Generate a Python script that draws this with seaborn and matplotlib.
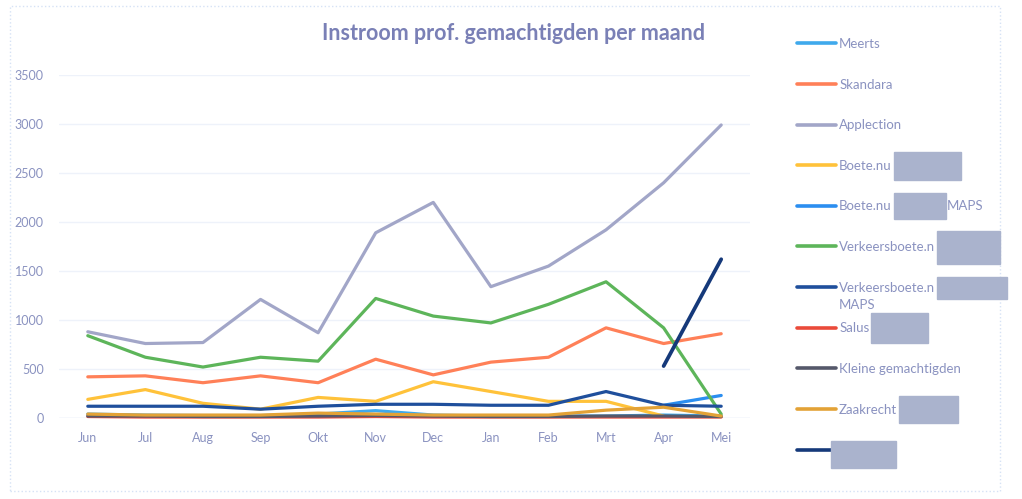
import matplotlib.pyplot as plt
import matplotlib.patches as mpatches
import seaborn as sns
import pandas as pd
import numpy as np

nan = np.nan
months = ['Jun', 'Jul', 'Aug', 'Sep', 'Okt', 'Nov', 'Dec', 'Jan', 'Feb', 'Mrt', 'Apr', 'Mei']

meerts = [40, 30, 25, 25, 40, 75, 30, 20, 20, 20, 30, 20]
skandara = [420, 430, 360, 430, 360, 600, 440, 570, 620, 920, 760, 860]
applection = [880, 760, 770, 1210, 870, 1890, 2200, 1340, 1550, 1920, 2400, 2990]
boete_nu = [190, 290, 150, 90, 210, 170, 370, 270, 170, 170, 20, nan]
boete_nu_maps = [nan, nan, nan, nan, nan, nan, nan, nan, nan, nan, 130, 230]
verkeersboete = [840, 620, 520, 620, 580, 1220, 1040, 970, 1160, 1390, 920, 40]
verkeersboete_maps = [120, 120, 120, 90, 120, 140, 140, 130, 130, 270, 130, 120]
salus = [15, 10, 10, 10, 10, 15, 10, 10, 10, 10, 10, 10]
kleine = [20, 20, 15, 15, 20, 25, 20, 15, 15, 20, 20, 15]
zaakrecht = [40, 30, 30, 30, 50, 40, 30, 30, 30, 80, 110, 20]
overig = [nan, nan, nan, nan, nan, nan, nan, nan, nan, nan, 530, 1620]

series = ['Meerts', 'Skandara', 'Applection', 'Boete.nu', 'Boete.nu MAPS',
          'Verkeersboete.nu', 'Verkeersboete.nu MAPS', 'Salus',
          'Kleine gemachtigden', 'Zaakrecht', 'Overig']
values = [meerts, skandara, applection, boete_nu, boete_nu_maps, verkeersboete,
          verkeersboete_maps, salus, kleine, zaakrecht, overig]
colors = ['#3fa9ec', '#ff8058', '#a2a6c8', '#ffc23a', '#2b8ef0', '#5db55a',
          '#1f4f9c', '#ea4a3a', '#55586a', '#e3a236', '#15397a']
# visible part of each legend label (rest is redacted in the source)
legend_labels = ['Meerts', 'Skandara', 'Applection', 'Boete.nu', 'Boete.nu',
                 'Verkeersboete.n', 'Verkeersboete.n', 'Salus',
                 'Kleine gemachtigden', 'Zaakrecht', '']
# (entry index, box width px, box height px)
redacted = [(3, 67, 28), (4, 52, 26), (5, 63, 33), (6, 70, 22),
            (7, 57, 30), (9, 59, 27), (10, 65, 27)]

rows = []
for name, vals in zip(series, values):
    for i, v in enumerate(vals):
        rows.append({'serie': name, 'maand': i, 'aantal': v})
df = pd.DataFrame(rows).dropna()

sns.set_style('white')
plt.rcParams['font.family'] = ['Lato', 'DejaVu Sans']
txt = '#8a92c0'

fig = plt.figure(figsize=(10.22, 4.99), dpi=100)
ax = fig.add_axes([59 / 1022, 1 - 418 / 499, 691 / 1022, 343 / 499])

sns.lineplot(data=df, x='maand', y='aantal', hue='serie', hue_order=series,
             palette=dict(zip(series, colors)), linewidth=2.3, ax=ax,
             legend=False, sort=False)
for line in ax.lines:
    line.set_solid_capstyle('round')
    line.set_clip_on(False)
ax.lines[-1].set_linewidth(2.7)

ax.set_xlim(-0.5, 11.5)
ax.set_ylim(0, 3500)
ax.set_yticks(range(0, 3501, 500))
ax.set_xticks(range(len(months)))
ax.set_xticklabels(months)
ax.tick_params(axis='both', colors=txt, labelsize=9, length=0)
ax.tick_params(axis='y', pad=11)
ax.tick_params(axis='x', pad=10)
ax.grid(axis='y', color='#eef2fa', linewidth=1)
for s in ax.spines.values():
    s.set_visible(False)
ax.axhline(0, color='#dde6f5', linewidth=1, zorder=0)
ax.set_xlabel('')
ax.set_ylabel('')

fig.text(513 / 1022, 1 - 33 / 499, 'Instroom prof. gemachtigden per maand',
         ha='center', va='center', fontsize=15.5, fontweight='bold', color='#7a80b6')

handles = [plt.Line2D([], [], color=c, linewidth=2.6) for c in colors]
leg = fig.legend(handles, legend_labels, loc='upper left',
                 bbox_to_anchor=(785 / 1022, 1 - 26 / 499), frameon=False,
                 fontsize=9.5, labelspacing=2.17, handlelength=3.0,
                 handletextpad=0.2, labelcolor=txt)

fig.canvas.draw()
renderer = fig.canvas.get_renderer()
texts = leg.get_texts()
inv = fig.transFigure.inverted()
for idx, w, h in redacted:
    bb = texts[idx].get_window_extent(renderer)
    x0 = bb.x1 + 2 if texts[idx].get_text() else bb.x0 - 8
    yc = (bb.y0 + bb.y1) / 2
    (fx, fy) = inv.transform((x0, yc - h / 2))
    fig.patches.append(mpatches.Rectangle((fx, fy), w / 1022, h / 499,
                                          transform=fig.transFigure, color='#aab3cd',
                                          zorder=10))
    if idx == 4:
        fig.text(fx + (w + 1) / 1022, inv.transform((0, yc))[1], 'MAPS',
                 ha='left', va='center', fontsize=9.5, color=txt)
    if idx == 6:
        fig.text(inv.transform((bb.x0, 0))[0], inv.transform((0, yc - 17))[1], 'MAPS',
                 ha='left', va='center', fontsize=9.5, color=txt)

# chart frame
fig.patches.append(mpatches.Rectangle((10 / 1022, 8 / 499), 990 / 1022, 485 / 499,
                                      transform=fig.transFigure, fill=False,
                                      edgecolor='#d6e2f5', linewidth=1, linestyle=':'))

fig.savefig('out.png', dpi=100)
